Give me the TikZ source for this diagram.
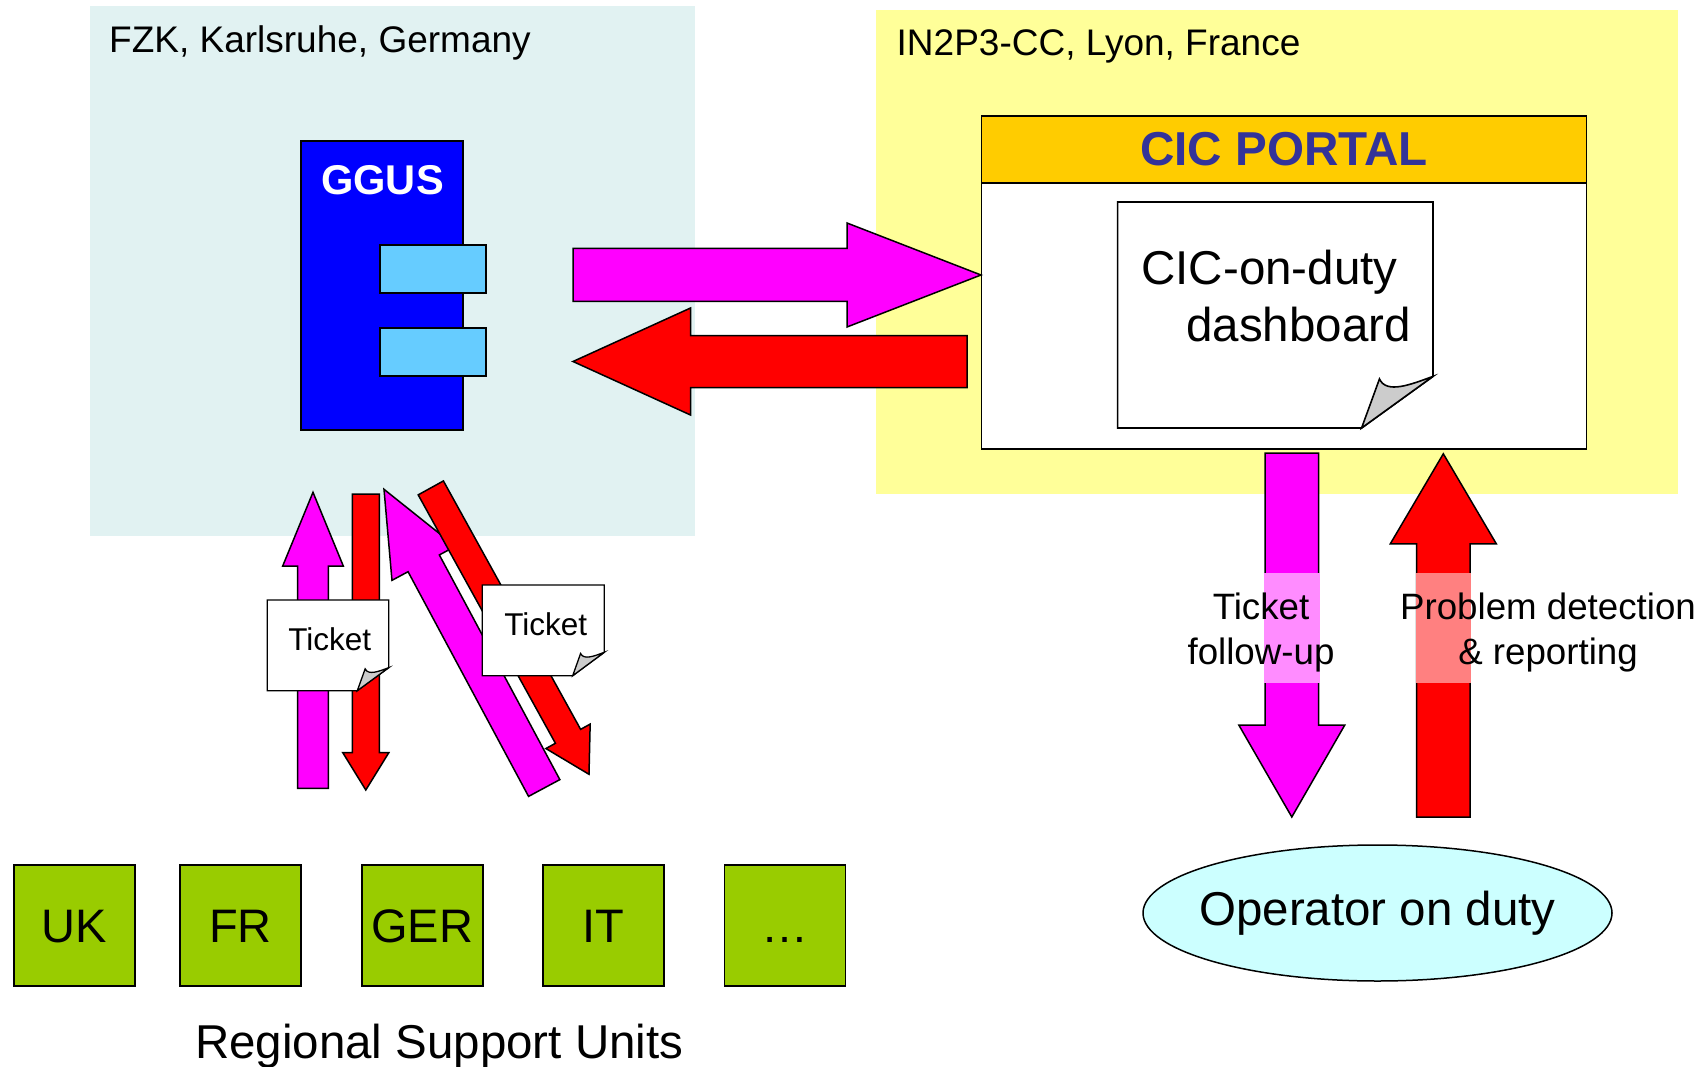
\documentclass[tikz,border=0pt]{standalone}
\usepackage{fontspec}
\setmainfont{Liberation Sans}
\usetikzlibrary{shapes.geometric,calc}

\definecolor{fzkbg}{RGB}{225,242,242}
\definecolor{lyonbg}{RGB}{255,255,153}
\definecolor{ggusblue}{RGB}{0,0,255}
\definecolor{ifaceblue}{RGB}{102,204,255}
\definecolor{portalbar}{RGB}{255,204,0}
\definecolor{portaltext}{RGB}{51,51,153}
\definecolor{arrowmag}{RGB}{255,0,255}
\definecolor{arrowred}{RGB}{255,0,0}
\definecolor{rsugreen}{RGB}{153,204,0}
\definecolor{opcyan}{RGB}{204,255,255}
\definecolor{foldgrey}{RGB}{204,204,204}

% block arrow: style, tail, tip, shaft half width, head half width, head length
\newcommand{\blockarrow}[6]{%
  \coordinate (hb) at ($(#3)!#6!(#2)$);
  \draw[#1] ($(#2)!#4!90:(#3)$) -- ($(hb)!#4!90:(#3)$) -- ($(hb)!#5!90:(#3)$) -- (#3)
    -- ($(hb)!#5!-90:(#3)$) -- ($(hb)!#4!-90:(#3)$) -- ($(#2)!#4!-90:(#3)$) -- cycle;
}
% sheet with a curled corner round an empty node: node, fold width, fold height
\newcommand{\dogear}[4][]{%
  \coordinate (fa) at ($(#2.south east)+(0,-#4)$);
  \coordinate (fb) at ($(#2.south east)+(-#3,0)$);
  \coordinate (fc) at ($(#2.south east)+({-0.75*#3},{-0.95*#4})$);
  \draw[paper,#1] (#2.north west) -- (#2.north east) -- (fa) -- (fb) -- (#2.south west) -- cycle;
  \draw[fold,#1] (fc) .. controls +({0.1*#3},{0.3*#4}) and +({-0.3*#3},{0.15*#4}) .. (fa) -- (fb) -- cycle;
}

\begin{document}
\begin{tikzpicture}[x=1pt, y=-1pt,
    panel/.style={rectangle, inner sep=0pt, outer sep=0pt},
    site/.style={anchor=base west, inner sep=0pt, font=\fontsize{37}{44}\selectfont},
    outline/.style={draw=black, line width=1.5pt, outer sep=0pt},
    magarrow/.style={outline, fill=arrowmag},
    redarrow/.style={outline, fill=arrowred},
    paper/.style={draw=black, line width=1.3pt, fill=white},
    fold/.style={draw=black, line width=1.3pt, fill=foldgrey},
    notebox/.style={rectangle, inner sep=0pt, outer sep=0pt},
    ticketlbl/.style={anchor=base, inner sep=0pt, font=\fontsize{31.5}{38}\selectfont},
    flowlbl/.style={anchor=north, inner sep=0pt, align=center, font=\fontsize{36.7}{44.4}\selectfont},
    iface/.style={rectangle, outline, fill=ifaceblue, minimum width=106pt, minimum height=48pt},
    rsu/.style={rectangle, outline, fill=rsugreen, minimum width=121pt, minimum height=121pt,
      inner sep=0pt, text height=34pt, text depth=0pt, font=\fontsize{47}{56}\selectfont}
  ]
    \useasboundingbox (0,0) rectangle (1708,1067);

    % Sites
    \node[panel, fill=fzkbg, minimum width=605pt, minimum height=530pt] (fzk) at (392.5,271) {};
    \node[site] (fzklbl) at (109,52.8) {FZK, Karlsruhe, Germany};
    \node[panel, fill=lyonbg, minimum width=802pt, minimum height=484pt] (lyon) at (1277,252) {};
    \node[site] (lyonlbl) at (896.5,55.5) {IN2P3-CC, Lyon, France};

    % GGUS
    \node[rectangle, outline, fill=ggusblue, minimum width=162pt, minimum height=289pt] (ggus) at (382,285.5) {};
    \node[anchor=base, inner sep=0pt, text=white, font=\fontsize{41.6}{50}\selectfont\bfseries] (gguslbl) at (382.5,194.8) {GGUS};
    \node[iface] (ifout) at (433,269) {};
    \node[iface] (ifin) at (433,352) {};

    % CIC portal
    \node[rectangle, outline, fill=white, minimum width=605pt, minimum height=333pt] (portal) at (1284,282.5) {};
    \node[rectangle, outline, fill=portalbar, minimum width=605pt, minimum height=67pt, anchor=north,
      text=portaltext, font=\fontsize{47.6}{57}\selectfont\bfseries] (portalbar) at (portal.north) {CIC PORTAL};
    \node[notebox, minimum width=315.4pt, minimum height=226pt] (dash) at (1275.3,315) {};
    \dogear[line width=1.6pt]{dash}{71.4}{51.6}
    \node[anchor=north east, inner sep=0pt, align=right, font=\fontsize{47.5}{57}\selectfont] (dashlbl)
      at (1411,249.7) {CIC-on-duty\kern0.28em\\dashboard};

    % GGUS <-> portal
    \coordinate (toportal-t) at (573,275);
    \coordinate (toportal-h) at (981,275);
    \blockarrow{magarrow}{toportal-t}{toportal-h}{26.5pt}{52pt}{134pt}
    \coordinate (toggus-t) at (967,361.5);
    \coordinate (toggus-h) at (573,361.5);
    \blockarrow{redarrow}{toggus-t}{toggus-h}{26pt}{53.5pt}{117.5pt}

    % Portal <-> operator
    \coordinate (follow-t) at (1291.8,453);
    \coordinate (follow-h) at (1291.8,817);
    \blockarrow{magarrow}{follow-t}{follow-h}{26.75pt}{53pt}{92pt}
    \coordinate (report-t) at (1443.3,817);
    \coordinate (report-h) at (1443.3,453.8);
    \blockarrow{redarrow}{report-t}{report-h}{26.7pt}{53pt}{90pt}
    \fill[arrowmag!45!white] (1264,573) rectangle (1319.6,682.5);
    \fill[arrowred!50!white] (1415.5,573) rectangle (1471.1,682.5);
    \node[flowlbl] (followlbl) at (1261,593) {Ticket\\follow-up};
    \node[flowlbl] (reportlbl) at (1548,593) {Problem detection\\\& reporting};

    % Operator
    \node[ellipse, outline, fill=opcyan, minimum width=469pt, minimum height=136pt, inner sep=0pt,
      label={[inner sep=0pt, font=\fontsize{47.5}{57}\selectfont]center:Operator on duty}] (operator) at (1377.5,913) {};

    % GGUS <-> regional units
    \coordinate (rsuup-t) at (313,788.3);
    \coordinate (rsuup-h) at (313,492.3);
    \blockarrow{magarrow}{rsuup-t}{rsuup-h}{15.3pt}{30.3pt}{73.7pt}
    \coordinate (rsudn-t) at (365.8,494);
    \coordinate (rsudn-h) at (365.8,790);
    \blockarrow{redarrow}{rsudn-t}{rsudn-h}{13.5pt}{23pt}{37.3pt}
    \coordinate (ciup-t) at (544.2,788);
    \coordinate (ciup-h) at (384,489.3);
    \blockarrow{magarrow}{ciup-t}{ciup-h}{17.75pt}{36pt}{84pt}
    \coordinate (cidn-t) at (430.8,487.9);
    \coordinate (cidn-h) at (589,774.3);
    \blockarrow{redarrow}{cidn-t}{cidn-h}{14.4pt}{25.3pt}{43.4pt}

    % Tickets
    \node[notebox, minimum width=121.4pt, minimum height=90.7pt] (ticketa) at (328,645.35) {};
    \dogear{ticketa}{31.4}{23}
    \node[ticketlbl] (ticketalbl) at (329.7,650.7) {Ticket};
    \node[notebox, minimum width=122pt, minimum height=90.7pt] (ticketb) at (543.3,630.35) {};
    \dogear{ticketb}{31.6}{23.4}
    \node[ticketlbl] (ticketblbl) at (545.7,635) {Ticket};

    % Regional support units
    \node[rsu] (uk) at (74.3,925.3) {UK};
    \node[rsu] (fr) at (240.5,925.3) {FR};
    \node[rsu] (ger) at (422.3,925.3) {GER};
    \node[rsu] (it) at (603.7,925.3) {IT};
    \node[rsu] (more) at (785,925.3) {\ldots};
    \node[anchor=base, inner sep=0pt, font=\fontsize{47.5}{57}\selectfont] (rsulbl) at (439.3,1058.4) {Regional Support Units};
\end{tikzpicture}
\end{document}
